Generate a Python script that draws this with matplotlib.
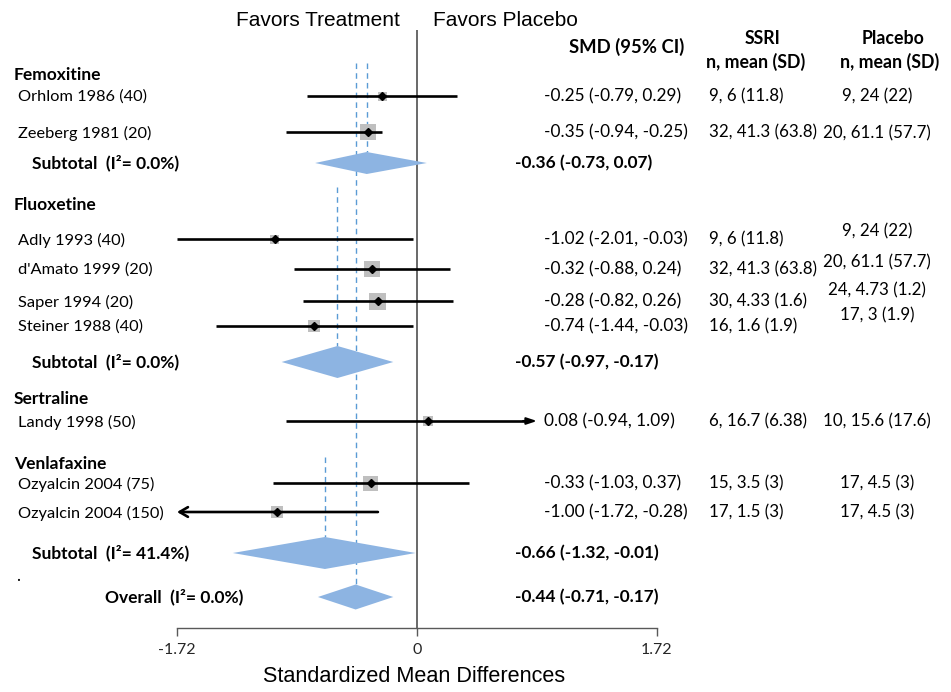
import matplotlib

matplotlib.use("Agg")
import matplotlib.pyplot as plt  # noqa: E402
import matplotlib.transforms as mtransforms  # noqa: E402
from matplotlib.patches import Polygon, Rectangle  # noqa: E402

# --- study level data -------------------------------------------------------
group_names = ["Femoxitine", "Fluoxetine", "Sertraline", "Venlafaxine"]
study_labels = [
    "Orhlom 1986 (40)", "Zeeberg 1981 (20)",
    "Adly 1993 (40)", "d'Amato 1999 (20)", "Saper 1994 (20)", "Steiner 1988 (40)",
    "Landy 1998 (50)",
    "Ozyalcin 2004 (75)", "Ozyalcin 2004 (150)",
]
study_smd = [-0.25, -0.35, -1.02, -0.32, -0.28, -0.74, 0.08, -0.33, -1.00]
study_lo = [-0.79, -0.94, -2.01, -0.88, -0.82, -1.44, -0.94, -1.03, -1.72]
study_hi = [0.29, -0.25, -0.03, 0.24, 0.26, -0.03, 1.09, 0.37, -0.28]
ssri_stats = [
    "9, 6 (11.8)", "32, 41.3 (63.8)",
    "9, 6 (11.8)", "32, 41.3 (63.8)", "30, 4.33 (1.6)", "16, 1.6 (1.9)",
    "6, 16.7 (6.38)",
    "15, 3.5 (3)", "17, 1.5 (3)",
]
placebo_stats = [
    "9, 24 (22)", "20, 61.1 (57.7)",
    "9, 24 (22)", "20, 61.1 (57.7)", "24, 4.73 (1.2)", "17, 3 (1.9)",
    "10, 15.6 (17.6)",
    "17, 4.5 (3)", "17, 4.5 (3)",
]

# --- pooled estimates -------------------------------------------------------
subtotal_i2 = [0.0, 0.0, 41.4]
subtotal_smd = [-0.36, -0.57, -0.66]
subtotal_lo = [-0.73, -0.97, -1.32]
subtotal_hi = [0.07, -0.17, -0.01]
overall_i2 = 0.0
overall_smd = -0.44
overall_lo = -0.71
overall_hi = -0.17

x_ticks = [-1.72, 0, 1.72]

# --- layout (vertical positions in pixel rows, top = 0) ---------------------
W, H = 951, 692
header_y = [75, 205, 399, 464]
study_y = [96, 132, 239, 269, 301, 326, 421, 483, 512]
placebo_y = [96, 133, 231, 262, 290, 315, 421, 483, 512]
box_px = [9, 16, 9, 16, 17, 12, 10, 15, 12]
arrow_kind = ["", "", "", "", "", "", "->", "", "<-"]
subtotal_y = [163, 362, 553]
subtotal_h = [22, 32, 32]
subtotal_top = [63, 187, 457]
overall_y = 597
overall_h = 25
ci_window = (-1.72, 0.86)  # CI lines stop short of the SMD column

DIAMOND = "#8db4e2"
DASH = "#5b9bd5"
BOX = "#bfbfbf"
TXT = "Lato"
HEAD = "Liberation Sans"

fig = plt.figure(figsize=(W / 100, H / 100), dpi=100)
ax = fig.add_axes([177 / W, (H - 628) / H, 480 / W, 598 / H])
ax.set_xlim(-1.72, 1.72)
ax.set_ylim(628, 30)
px_per_unit = 480 / 3.44

for s in ["top", "right", "left"]:
    ax.spines[s].set_visible(False)
ax.spines["bottom"].set_color("#595959")
ax.spines["bottom"].set_linewidth(1.0)
ax.set_yticks([])
ax.set_xticks(x_ticks)
ax.set_xticklabels(["-1.72", "0", "1.72"], family=TXT, fontsize=11.5, color="#262626")
ax.tick_params(axis="x", direction="out", length=6, width=1, color="#595959", pad=5)

ax.axvline(0, color="#404040", lw=1.1, zorder=1)


def diamond(center, lo, hi, y, h):
    pts = [(lo, y), (center, y - h / 2), (hi, y), (center, y + h / 2)]
    ax.add_patch(Polygon(pts, closed=True, facecolor=DIAMOND, edgecolor="none", zorder=3))


# dashed reference lines through each pooled estimate
for c, y, h, top in zip(subtotal_smd, subtotal_y, subtotal_h, subtotal_top):
    ax.plot([c, c], [top, y - h / 2], color=DASH, lw=1, ls=(0, (4, 3)), zorder=2)
ax.plot([overall_smd] * 2, [63, overall_y - overall_h / 2], color=DASH, lw=1,
        ls=(0, (4, 3)), zorder=2)

# study CIs, weight boxes and point estimates
for m, lo, hi, y, bp, arr in zip(study_smd, study_lo, study_hi, study_y, box_px, arrow_kind):
    lo_c = max(lo, ci_window[0])
    hi_c = min(hi, ci_window[1])
    if arr == "->":
        ax.plot([lo_c, hi_c - 0.05], [y, y], color="black", lw=1.9, zorder=4,
                solid_capstyle="butt")
        ax.annotate("", xy=(hi_c, y), xytext=(hi_c - 0.1, y),
                    arrowprops=dict(arrowstyle="-|>,head_length=0.6,head_width=0.2",
                                    color="black", lw=1.5, shrinkA=0, shrinkB=0), zorder=4)
    elif arr == "<-":
        ax.annotate("", xy=(lo_c, y), xytext=(hi_c, y),
                    arrowprops=dict(arrowstyle="->,head_length=0.6,head_width=0.35",
                                    color="black", lw=1.9, shrinkA=0, shrinkB=0), zorder=4)
    else:
        ax.plot([lo_c, hi_c], [y, y], color="black", lw=1.9, zorder=4, solid_capstyle="butt")
    w = bp / px_per_unit
    ax.add_patch(Rectangle((m - w / 2, y - bp / 2), w, bp, facecolor=BOX,
                           edgecolor="none", zorder=3))
    ax.plot(m, y, marker="D", ms=4, color="black", zorder=5)

for c, lo, hi, y, h in zip(subtotal_smd, subtotal_lo, subtotal_hi, subtotal_y, subtotal_h):
    diamond(c, lo, hi, y, h)
diamond(overall_smd, overall_lo, overall_hi, overall_y, overall_h)

# --- text columns (x in pixels, y in row units) -----------------------------
tr = mtransforms.blended_transform_factory(fig.transFigure, ax.transData)


def put(px, y, s, ha="left", bold=False, size=12.2, family=TXT):
    ax.text(px / W, y, s, transform=tr, ha=ha, va="center", fontsize=size,
            fontweight="bold" if bold else "normal", family=family,
            clip_on=False)


def ci_text(m, lo, hi):
    return f"{m:.2f} ({lo:.2f}, {hi:.2f})"


for name, y in zip(group_names, header_y):
    put(14, y, name, bold=True, size=12.5)
for i, lab in enumerate(study_labels):
    put(18, study_y[i] + 1, lab, size=11.8)
    put(544, study_y[i], ci_text(study_smd[i], study_lo[i], study_hi[i]), size=12.4)
    put(709, study_y[i], ssri_stats[i])
    put(877, placebo_y[i], placebo_stats[i], ha="center")

for i2, c, lo, hi, y in zip(subtotal_i2, subtotal_smd, subtotal_lo, subtotal_hi, subtotal_y):
    put(32, y, f"Subtotal  (I²= {i2:.1f}%)", bold=True, size=12.5)
    put(515, y, ci_text(c, lo, hi), bold=True, size=12.4)
put(105, overall_y, f"Overall  (I²= {overall_i2:.1f}%)", bold=True, size=12.5)
put(515, overall_y, ci_text(overall_smd, overall_lo, overall_hi), bold=True, size=12.4)
put(16, 576, ".")

# column headers
put(627, 47, "SMD (95% CI)", ha="center", bold=True, size=13.3)
put(763, 38, "SSRI", ha="center", bold=True, size=12.8)
put(756, 62, "n, mean (SD)", ha="center", bold=True, size=12.8)
put(893, 38, "Placebo", ha="center", bold=True, size=12.8)
put(890, 62, "n, mean (SD)", ha="center", bold=True, size=12.8)

put(400, 20, "Favors Treatment", ha="right", size=15, family=HEAD)
put(433, 20, "Favors Placebo", size=15, family=HEAD)
fig.text(414 / W, 1 - 677 / H, "Standardized Mean Differences", ha="center", va="center",
         fontsize=15.6, family=HEAD)

fig.savefig("out.png", dpi=100)
